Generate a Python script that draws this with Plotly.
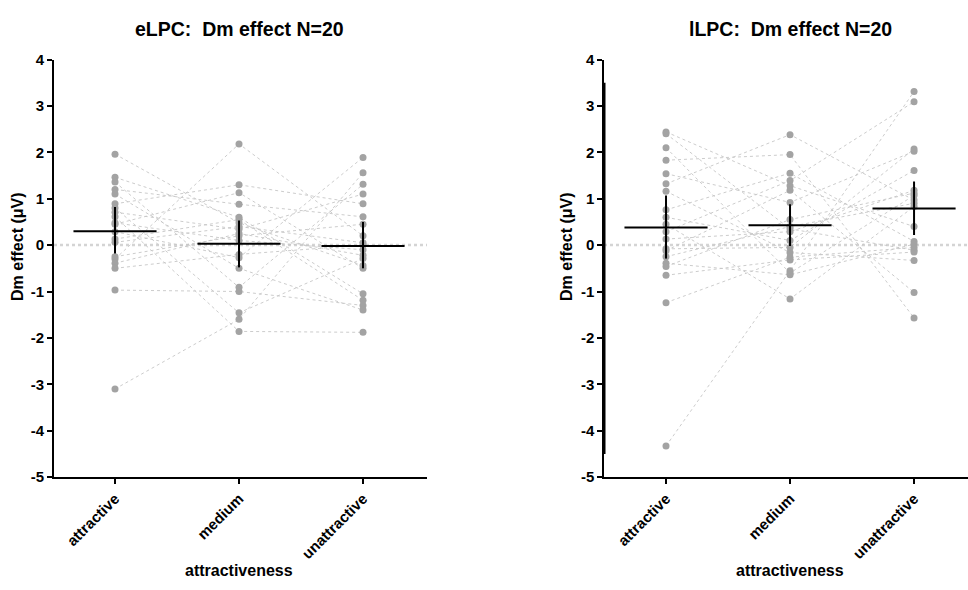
import plotly.graph_objects as go

categories = ["attractive", "medium", "unattractive"]
y_ticks = [-5, -4, -3, -2, -1, 0, 1, 2, 3, 4]
y_tick_labels = ["-5", "-4", "-3", "-2", "-1", "0", "1", "2", "3", "4"]

# eLPC panel: one value per subject (same subject order in each list)
elpc_attractive = [1.96, -0.30, 1.46, 1.36, -3.10, -0.97, 1.20, 1.10, 0.89, 0.80,
                   0.71, 0.61, 0.48, 0.45, 0.29, 0.13, 0.06, -0.25, -0.39, -0.50]
elpc_medium = [0.48, 2.18, 0.60, -0.91, -1.60, -1.00, 0.88, -0.50, 1.30, -1.46,
               0.34, -1.86, 0.10, 1.13, -0.27, 0.55, 0.40, 0.20, 0.25, -0.20]
elpc_unattractive = [-0.44, 0.20, -1.05, 1.31, 1.56, -1.30, 0.61, -1.40, 0.89, -0.29,
                     1.10, -1.88, -0.10, -0.50, 1.89, -1.19, 0.05, 0.45, -0.22, 0.00]
elpc_mean = [0.30, 0.03, -0.02]
elpc_ci_low = [-0.18, -0.48, -0.50]
elpc_ci_high = [0.82, 0.53, 0.50]

# lLPC panel
llpc_attractive = [-4.33, 2.44, 2.40, 2.10, 1.83, 1.54, 1.32, 1.16, 0.76, 0.60,
                   0.45, 0.29, 0.13, -0.08, -0.12, -0.25, -0.39, -0.46, -0.65, -1.24]
llpc_medium = [-0.55, 1.28, 0.35, -0.60, 1.95, 0.92, 2.38, -0.16, 1.55, 0.10,
               -1.16, 1.39, 0.29, -0.05, 1.18, 0.40, -0.64, 0.55, -0.32, -0.26]
llpc_unattractive = [3.31, 0.40, -0.11, 1.07, -1.57, 2.02, 0.97, -0.33, 0.08, 1.61,
                     0.83, 3.09, 1.18, 2.07, -1.02, 0.90, 0.02, 1.12, -0.15, -0.05]
llpc_mean = [0.38, 0.43, 0.79]
llpc_ci_low = [-0.29, -0.02, 0.22]
llpc_ci_high = [1.07, 0.88, 1.37]

FONT = "Liberation Sans, Arial, Helvetica, sans-serif"
MEAN_HALF = 0.335

fig = go.Figure()


def add_panel(xa, ya, a, m, u, mean, lo, hi):
    xs, ys = [], []
    for va, vm, vu in zip(a, m, u):
        xs += [0, 1, 2, None]
        ys += [va, vm, vu, None]
    fig.add_trace(go.Scatter(x=xs, y=ys, mode="lines", xaxis=xa, yaxis=ya,
                             line=dict(color="#c6c6c6", width=0.9, dash="dot"),
                             hoverinfo="skip"))
    px, py = [], []
    for i, vals in enumerate([a, m, u]):
        px += [i] * len(vals)
        py += list(vals)
    fig.add_trace(go.Scatter(x=px, y=py, mode="markers", xaxis=xa, yaxis=ya,
                             marker=dict(color="#a3a3a3", size=7)))
    mx, my = [], []
    for i in range(3):
        mx += [i - MEAN_HALF, i + MEAN_HALF, None, i, i, None]
        my += [mean[i], mean[i], None, lo[i], hi[i], None]
    fig.add_trace(go.Scatter(x=mx, y=my, mode="lines", xaxis=xa, yaxis=ya,
                             line=dict(color="black", width=2)))


add_panel("x", "y", elpc_attractive, elpc_medium, elpc_unattractive,
          elpc_mean, elpc_ci_low, elpc_ci_high)
add_panel("x2", "y2", llpc_attractive, llpc_medium, llpc_unattractive,
          llpc_mean, llpc_ci_low, llpc_ci_high)

ydom = [(590 - 482) / 590, (590 - 52) / 590]
tickfont = dict(family=FONT, size=15, color="black", weight="bold")

xcommon = dict(tickvals=[0, 1, 2], ticktext=categories, showline=True, linewidth=2,
               linecolor="black", ticks="outside", ticklen=5, tickwidth=2,
               tickcolor="black", showgrid=False, zeroline=False, tickangle=-45,
               tickfont=tickfont)
ycommon = dict(range=[-5, 4], tickvals=y_ticks, ticktext=y_tick_labels, showline=True,
               linecolor="black", ticks="outside", ticklen=5, tickwidth=2,
               tickcolor="black", showgrid=False, zeroline=False, tickfont=tickfont,
               domain=ydom)

fig.update_layout(
    width=968, height=590, margin=dict(l=0, r=0, t=0, b=0),
    plot_bgcolor="white", paper_bgcolor="white", showlegend=False,
    xaxis=dict(domain=[54 / 968, 427 / 968], range=[-0.492, 2.516], anchor="y", **xcommon),
    yaxis=dict(anchor="x", linewidth=2, **ycommon),
    xaxis2=dict(domain=[604 / 968, 1.0], range=[-0.5, 2.435], anchor="y2", **xcommon),
    yaxis2=dict(anchor="x2", linewidth=1.5, **ycommon),
)

# zero reference lines
for xr, yr in [("x domain", "y"), ("x2 domain", "y2")]:
    fig.add_shape(type="line", xref=xr, yref=yr, x0=0, x1=1, y0=0, y1=0,
                  line=dict(color="#d4d4d4", width=2.5, dash="dot"), layer="below")

# thicker segment on right y axis
fig.add_shape(type="line", xref="x2 domain", yref="y2", x0=0, x1=0, y0=3.5, y1=-4.5,
              line=dict(color="black", width=3))

titlefont = dict(family=FONT, size=19.5, color="black", weight="bold")
axfont = dict(family=FONT, size=16, color="black", weight="bold")
ann = [
    dict(text="eLPC:  Dm effect N=20", x=239 / 968, y=1 - 21 / 590, font=titlefont),
    dict(text="lLPC:  Dm effect N=20", x=790 / 968, y=1 - 21 / 590, font=titlefont),
    dict(text="attractiveness", x=239 / 968, y=1 - 578 / 590, font=axfont),
    dict(text="attractiveness", x=790 / 968, y=1 - 578 / 590, font=axfont),
    dict(text="Dm effect (μV)", x=18 / 968, y=1 - 245 / 590, font=axfont, textangle=-90),
    dict(text="Dm effect (μV)", x=567 / 968, y=1 - 245 / 590, font=axfont, textangle=-90),
]
for a in ann:
    fig.add_annotation(xref="paper", yref="paper", showarrow=False,
                       xanchor="center", yanchor="middle", **a)

fig.write_html("out.html")
